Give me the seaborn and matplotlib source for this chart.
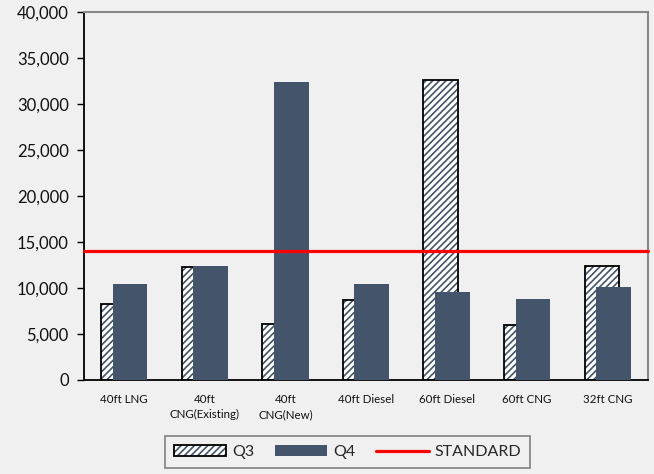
import matplotlib
matplotlib.use("Agg")
import matplotlib.pyplot as plt
import seaborn as sns
import numpy as np
import pandas as pd
from matplotlib.colors import to_rgba
from matplotlib.patches import Patch
from matplotlib.lines import Line2D
from matplotlib.ticker import FuncFormatter

categories = ["40ft LNG", "40ft\nCNG(Existing)", "40ft\nCNG(New)", "40ft Diesel",
              "60ft Diesel", "60ft CNG", "32ft CNG"]
q3 = [8300, 12300, 6050, 8750, 32600, 5980, 12400]
q4 = [10400, 12400, 32400, 10400, 9550, 8800, 10100]
standard = 14000
y_ticks = [0, 5000, 10000, 15000, 20000, 25000, 30000, 35000, 40000]

BG = "#f0f0f0"
Q4_COLOR = "#44546a"

sns.set_theme(style="white")
plt.rcParams["font.family"] = ["Lato", "DejaVu Sans"]
plt.rcParams["hatch.linewidth"] = 1.2

fig = plt.figure(figsize=(6.54, 4.74), dpi=100, facecolor=BG)
ax = fig.add_axes([84 / 654, 94 / 474, (648 - 84) / 654, (380 - 12) / 474])
ax.set_facecolor(BG)

df3 = pd.DataFrame({"cat": categories, "val": q3})
df4 = pd.DataFrame({"cat": categories, "val": q4})

W = 0.43
OFF = 0.072

sns.barplot(data=df3, x="cat", y="val", ax=ax, width=W, color="white",
            edgecolor="black", linewidth=1.3, hatch="/////", saturation=1, zorder=2)
n3 = len(ax.patches)
for p in ax.patches[:n3]:
    p.set_x(p.get_x() - OFF)
    p._hatch_color = to_rgba(Q4_COLOR)

sns.barplot(data=df4, x="cat", y="val", ax=ax, width=W, color=Q4_COLOR,
            linewidth=0, saturation=1, zorder=3)
for p in ax.patches[n3:]:
    p.set_x(p.get_x() + OFF)

ax.axhline(standard, color="#ff0000", lw=2.3, zorder=4, clip_on=False)

ax.set_xlim(-0.5, len(categories) - 0.5)
ax.set_ylim(0, 40000)
ax.set_yticks(y_ticks)
ax.yaxis.set_major_formatter(FuncFormatter(lambda v, _: f"{int(v):,}"))
ax.set_xlabel("")
ax.set_ylabel("")
ax.tick_params(axis="y", which="major", left=True, length=5, width=1, color="black",
               labelsize=12, labelcolor="#111111", pad=6, direction="out")
ax.tick_params(axis="x", length=0, labelsize=8.3, labelcolor="#111111", pad=10)
for lbl in ax.get_xticklabels():
    lbl.set_linespacing(1.45)

for side in ["left", "bottom"]:
    ax.spines[side].set_color("black")
    ax.spines[side].set_linewidth(1.3)
for side in ["top", "right"]:
    ax.spines[side].set_visible(True)
    ax.spines[side].set_color("#888888")
    ax.spines[side].set_linewidth(1.5)

h3 = Patch(facecolor="white", edgecolor="black", hatch="/////", linewidth=1.3)
h3._hatch_color = to_rgba(Q4_COLOR)
h4 = Patch(facecolor=Q4_COLOR, edgecolor=Q4_COLOR, linewidth=0)
hs = Line2D([0], [0], color="#ff0000", lw=2.3)
leg = fig.legend([h3, h4, hs], ["Q3", "Q4", "STANDARD"], ncol=3, loc="lower center",
                 bbox_to_anchor=(0.531, -0.004), frameon=True, fancybox=False,
                 edgecolor="#888888", facecolor=BG, framealpha=1, fontsize=11.5,
                 handlelength=3.3, handletextpad=0.35, columnspacing=1.3,
                 borderpad=0.55)
leg.get_frame().set_linewidth(1.3)

fig.savefig("out.png", dpi=100, facecolor=BG)
